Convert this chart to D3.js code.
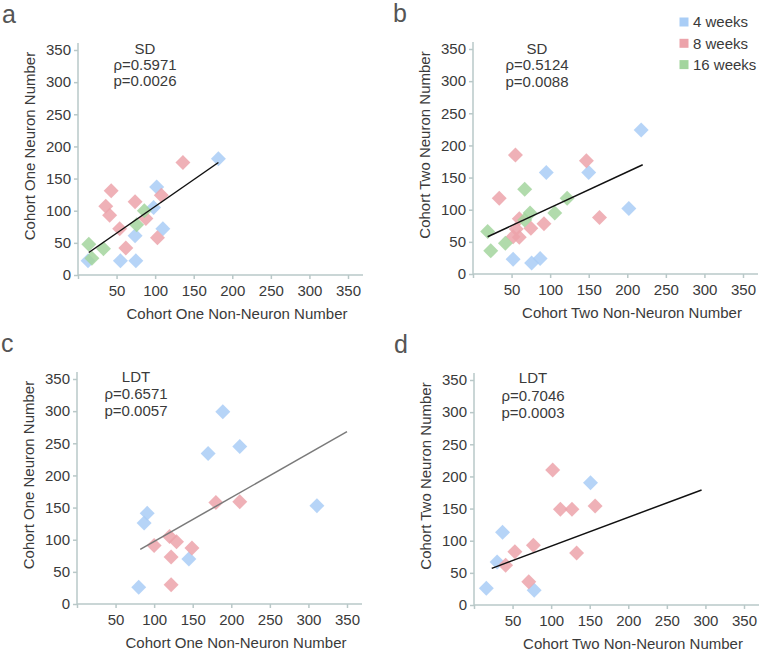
<!DOCTYPE html>
<html>
<head>
<meta charset="utf-8">
<script src="https://cdn.jsdelivr.net/npm/d3@7"></script>
<style>
  html, body { margin: 0; padding: 0; background: #fff; }
  svg text { font-family: "Liberation Sans", Arial, Helvetica, sans-serif; }
</style>
</head>
<body>
<svg id="chart" width="760" height="651"></svg>
<script>
// ---- Data ----
const seriesNames = ["4 weeks", "8 weeks", "16 weeks"];
const seriesColors = ["#a9cdf6", "#eca3aa", "#a3d59e"];

const xTicks = [0, 50, 100, 150, 200, 250, 300, 350];
const yTicks = [0, 50, 100, 150, 200, 250, 300, 350];

// Panel a: SD, cohort one
const a4w  = [[13,22],[55,22],[75,22],[74,61],[98,105],[102,137],[110,72],[182,181]];
const a8w  = [[36,107],[41,93],[43,131],[54,72],[62,42],[74,114],[88,88],[108,124],[103,58],[136,175]];
const a16w = [[18,26],[14,48],[33,41],[76,78],[86,100]];
const aFit = [[14,35],[182,175]];

// Panel b: SD, cohort two
const b4w  = [[52,23],[76,17],[87,24],[95,158],[150,158],[202,102],[218,224]];
const b8w  = [[34,118],[55,185],[60,86],[56,70],[52,58],[60,57],[75,71],[92,78],[147,176],[164,88]];
const b16w = [[19,66],[23,36],[42,48],[67,132],[67,84],[74,95],[106,95],[122,118]];
const bFit = [[19,58],[220,170]];

// Panel c: LDT, cohort one
const c4w  = [[80,26],[87,126],[91,141],[145,70],[170,234],[189,299],[211,245],[311,153]];
const c8w  = [[100,91],[120,105],[129,97],[122,73],[149,87],[180,158],[211,159],[122,30]];
const c16w = [];
const cFit = [[82,85],[350,268]];

// Panel d: LDT, cohort two
const d4w  = [[16,26],[30,67],[37,113],[78,23],[151,190]];
const d8w  = [[41,62],[53,83],[71,36],[77,93],[102,210],[112,149],[127,149],[133,81],[157,154]];
const d16w = [];
const dFit = [[23,57],[295,179]];

const panels = [
  { letter: "a", test: "SD",  rho: "ρ=0.5971", p: "p=0.0026", xTitle: "Cohort One Non-Neuron Number", yTitle: "Cohort One Neuron Number", series: [a4w, a8w, a16w], fit: aFit, fitColor: "#111" },
  { letter: "b", test: "SD",  rho: "ρ=0.5124", p: "p=0.0088", xTitle: "Cohort Two Non-Neuron Number", yTitle: "Cohort Two Neuron Number", series: [b4w, b8w, b16w], fit: bFit, fitColor: "#111" },
  { letter: "c", test: "LDT", rho: "ρ=0.6571", p: "p=0.0057", xTitle: "Cohort One Non-Neuron Number", yTitle: "Cohort One Neuron Number", series: [c4w, c8w, c16w], fit: cFit, fitColor: "#7a7a7a" },
  { letter: "d", test: "LDT", rho: "ρ=0.7046", p: "p=0.0003", xTitle: "Cohort Two Non-Neuron Number", yTitle: "Cohort Two Neuron Number", series: [d4w, d8w, d16w], fit: dFit, fitColor: "#111" }
];

// ---- Layout ----
const layout = [
  { ox: 78,  oy: 275, annX: 145, annY: 54,  annStep: 16 },
  { ox: 473, oy: 274, annX: 537, annY: 53.5, annStep: 16.5 },
  { ox: 77,  oy: 604, annX: 136, annY: 382, annStep: 17 },
  { ox: 474, oy: 605, annX: 533, annY: 383, annStep: 17.5 }
];
const plotW = 270, plotH = 225;
const axisColor = "#b9c8c8";
const textColor = "#3a3a3a";

const svg = d3.select("#chart");

panels.forEach((pn, i) => {
  const L = layout[i];
  const g = svg.append("g").attr("transform", `translate(${L.ox},${L.oy - plotH})`);
  const x = d3.scaleLinear().domain([0, 350]).range([0, plotW]);
  const y = d3.scaleLinear().domain([0, 350]).range([plotH, 0]);

  // axes
  const xAxis = d3.axisBottom(x).tickValues(xTicks).tickSize(4).tickPadding(6)
    .tickFormat(d => d === 0 ? "" : d);
  const yAxis = d3.axisLeft(y).tickValues(yTicks).tickSize(4).tickPadding(3);

  const gx = g.append("g").attr("transform", `translate(0,${plotH})`).call(xAxis);
  const gy = g.append("g").call(yAxis);
  [gx, gy].forEach(ax => {
    ax.select(".domain").remove();
    ax.selectAll(".tick line").attr("stroke", axisColor).attr("stroke-width", 1.5);
    ax.selectAll(".tick text").attr("fill", textColor).style("font-size", "15px");
  });
  // axis lines extended a bit beyond the last tick
  g.append("line").attr("x1", 0).attr("x2", plotW + 15).attr("y1", plotH).attr("y2", plotH)
    .attr("stroke", axisColor).attr("stroke-width", 1.5);
  g.append("line").attr("x1", 0).attr("x2", 0).attr("y1", -7).attr("y2", plotH)
    .attr("stroke", axisColor).attr("stroke-width", 1.5);

  // points
  const sym = d3.symbol().type(d3.symbolSquare).size(112);
  pn.series.forEach((pts, si) => {
    g.append("g").selectAll("path").data(pts).join("path")
      .attr("d", sym)
      .attr("transform", d => `translate(${x(d[0])},${y(d[1])}) rotate(45)`)
      .attr("fill", seriesColors[si])
      .attr("fill-opacity", 0.85);
  });

  // regression line
  g.append("line")
    .attr("x1", x(pn.fit[0][0])).attr("y1", y(pn.fit[0][1]))
    .attr("x2", x(pn.fit[1][0])).attr("y2", y(pn.fit[1][1]))
    .attr("stroke", pn.fitColor).attr("stroke-width", 1.5);

  // annotation
  [pn.test, pn.rho, pn.p].forEach((t, k) => {
    svg.append("text").attr("x", L.annX).attr("y", L.annY + k * L.annStep)
      .attr("text-anchor", "middle").attr("fill", textColor).style("font-size", "15px").text(t);
  });

  // axis titles
  svg.append("text").attr("x", L.ox + 159).attr("y", L.oy + 44)
    .attr("text-anchor", "middle").attr("fill", textColor).style("font-size", "15px").text(pn.xTitle);
  svg.append("text")
    .attr("transform", `translate(${L.ox - 43},${L.oy - 129}) rotate(-90)`)
    .attr("text-anchor", "middle").attr("fill", textColor).style("font-size", "15px").text(pn.yTitle);

  // panel letter
  svg.append("text").attr("x", L.ox - (i % 2 === 0 ? 76 : 80)).attr("y", L.oy - 252)
    .attr("fill", "#555").style("font-size", "25px").text(pn.letter);
});

// legend
const legend = svg.append("g").attr("transform", "translate(684,22)");
seriesNames.forEach((n, i) => {
  const row = legend.append("g").attr("transform", `translate(0,${i * 21.3})`);
  row.append("rect").attr("x", -4.5).attr("y", -4.5).attr("width", 9).attr("height", 9)
    .attr("fill", seriesColors[i]);
  row.append("text").attr("x", 9).attr("y", 5.2).attr("fill", textColor)
    .style("font-size", "15px").text(n);
});
</script>
</body>
</html>
